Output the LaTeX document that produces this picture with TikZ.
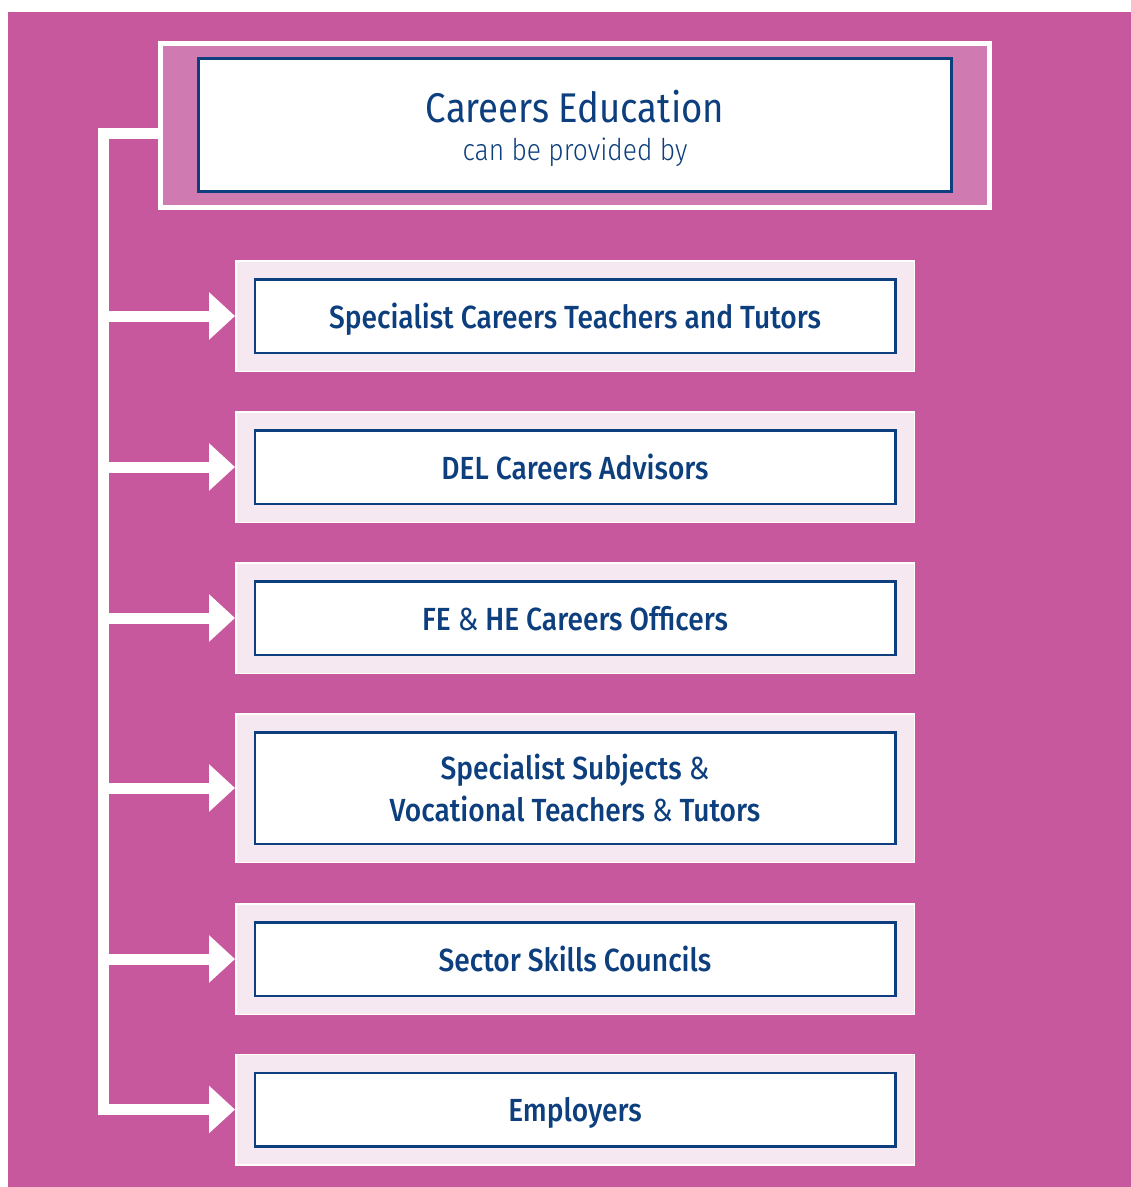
\documentclass[tikz,border=0pt]{standalone}
\usepackage{fontspec}
\usetikzlibrary{arrows.meta}

% fonts: a humanist sans, slightly narrowed
\IfFontExistsTF{Fira Sans Medium}
  {\newfontfamily\labelfont[FakeStretch=0.88]{Fira Sans Medium}}
  {\newfontfamily\labelfont[FakeStretch=0.88]{Fira Sans}}
\newfontfamily\titlefont[FakeStretch=0.88]{Fira Sans}
\IfFontExistsTF{Fira Sans Light}
  {\newfontfamily\subfont[FakeStretch=0.88]{Fira Sans Light}}
  {\newfontfamily\subfont[FakeStretch=0.88]{Fira Sans}}
\newcommand{\amp}{{\titlefont\&}}

\definecolor{backpink}{HTML}{C7589E}
\definecolor{headpink}{HTML}{CF7BB1}
\definecolor{panelpink}{HTML}{F5E8F1}
\definecolor{navy}{HTML}{0D3F7E}

\tikzset{
  panel/.style={draw=white, line width=1.5pt, fill=panelpink,
    minimum width=678.5pt, minimum height=110.5pt,
    text=navy, align=center, text depth=0pt,
    font=\labelfont\fontsize{32}{42}\selectfont,
    path picture={
      \filldraw[draw=navy, fill=white, line width=2.5pt]
        ([shift={(19pt,-18.5pt)}]path picture bounding box.north west) rectangle
        ([shift={(-19pt,18.5pt)}]path picture bounding box.south east);
    }},
  headbox/.style={draw=white, line width=5pt, fill=headpink,
    minimum width=829pt, minimum height=164pt,
    text=navy, align=center, text depth=0pt,
    font=\fontsize{10}{38}\selectfont,
    path picture={
      \filldraw[draw=navy, fill=white, line width=3pt]
        ([shift={(38pt,-15pt)}]path picture bounding box.north west) rectangle
        ([shift={(-38pt,16pt)}]path picture bounding box.south east);
    }},
  feed/.style={draw=white, line width=11pt, line join=miter,
    -{Triangle[length=26pt, width=46pt]}}
}

\begin{document}
\begin{tikzpicture}[x=1pt, y=-1pt]

\useasboundingbox (0,0) rectangle (1131,1187);
\fill[white] (0,0) rectangle (1131,1187);
\fill[backpink] (8,12) rectangle (1131,1187);

% top box
\node[headbox] (head) at (575,125.5)
  {{\titlefont\fontsize{41.5}{41.5}\selectfont Careers Education}\\
   {\subfont\fontsize{30}{30}\selectfont can be provided by}};

% the providers
\node[panel] (spec) at (575,316) {Specialist Careers Teachers and Tutors};
\node[panel] (del)  at (575,467) {DEL Careers Advisors};
\node[panel] (fehe) at (575,618) {FE \amp{} HE Careers Officers};
\node[panel, minimum height=148.5pt] (voc) at (575,788)
  {Specialist Subjects \amp\\Vocational Teachers \amp{} Tutors};
\node[panel] (ssc)  at (575,959) {Sector Skills Councils};
\node[panel] (emp)  at (575,1109.5) {Employers};

% rail and arrows
\coordinate (rail) at (103.5,0);
\draw[feed] ([yshift=-8pt]head.west) -| (rail |- emp.west) -- (emp.west);
\foreach \b in {spec,del,fehe,voc,ssc}
  \draw[feed] (rail |- \b.west) -- (\b.west);

\end{tikzpicture}
\end{document}
